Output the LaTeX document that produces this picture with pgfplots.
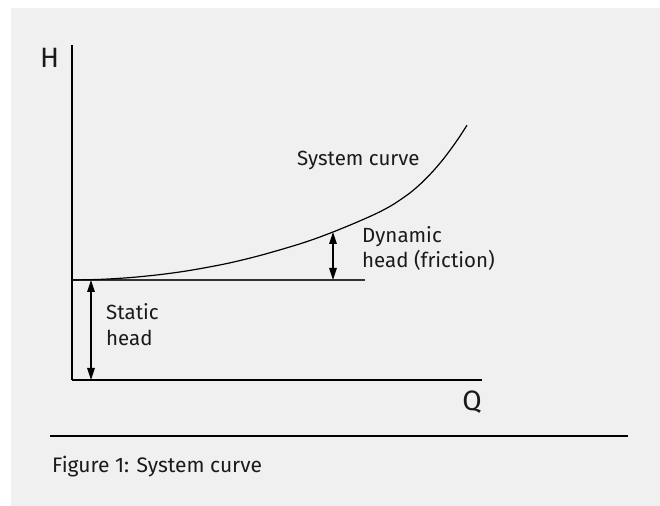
\documentclass[border=0pt]{standalone}
\usepackage{fontspec}
\setmainfont{Fira Sans}
\usepackage{pgfplots}
\pgfplotsset{compat=1.18}
\usetikzlibrary{arrows.meta}
\definecolor{bgc}{HTML}{F0F0F0}
\definecolor{txt}{HTML}{1A1A1A}
\begin{document}
\begin{tikzpicture}
\fill[white] (0,0) rectangle (660bp,506bp);
\fill[bgc] (11bp,0) rectangle (660bp,498bp);
\begin{axis}[
  at={(72bp,126bp)}, anchor=south west,
  scale only axis, width=410bp, height=335bp,
  xmin=72, xmax=482, ymin=126, ymax=461,
  axis x line*=bottom, axis y line*=left,
  axis line style={-, line width=1.3bp, black},
  xtick=\empty, ytick=\empty,
  clip=false,
]
% static head level
\addplot[line width=1.4bp, color=black!80] coordinates {(72,226) (365,226)};
% system curve
\addplot[line width=1.2bp, black, smooth, tension=0.5] coordinates {
(72,226) (100,226.6) (130,228.4) (160,231.4) (190,235.6) (227,242.5)
(260,250.5) (293,260) (313,266.5) (333,274) (355,283) (377,292.8)
(393,301.4) (410,313.1) (422,323.5) (433,334.8) (443,346.5) (453,359.8)
(460,369.9) (467,380.8)};
% arrows
\addplot[line width=1.2bp, black, {Triangle[length=12bp,width=7.5bp]}-{Triangle[length=12bp,width=7.5bp]}] coordinates {(91,226) (91,126)};
\addplot[line width=1.2bp, black, {Triangle[length=12bp,width=7.5bp]}-{Triangle[length=12bp,width=7.5bp]}] coordinates {(333,274) (333,226)};
% labels
\node[anchor=base west, inner sep=0, font=\fontsize{20.5bp}{24bp}\selectfont, txt] at (axis cs:297,340) {System curve};
\node[anchor=base west, inner sep=0, font=\fontsize{20.5bp}{24bp}\selectfont, txt] at (axis cs:362,263) {Dynamic};
\node[anchor=base west, inner sep=0, font=\fontsize{20.5bp}{24bp}\selectfont, txt] at (axis cs:362,238) {head (friction)};
\node[anchor=base west, inner sep=0, font=\fontsize{20.5bp}{24bp}\selectfont, txt] at (axis cs:106,186) {Static};
\node[anchor=base west, inner sep=0, font=\fontsize{20.5bp}{24bp}\selectfont, txt] at (axis cs:106,160) {head};
\node[anchor=base west, inner sep=0, font=\fontsize{28bp}{32bp}\selectfont, txt] at (axis cs:40,438) {H};
\node[anchor=base east, inner sep=0, font=\fontsize{28bp}{32bp}\selectfont, txt] at (axis cs:482,96) {Q};
% separator and caption
\draw[line width=1.2bp, black] (axis cs:50,70) -- (axis cs:628,70);
\node[anchor=base west, inner sep=0, font=\fontsize{21bp}{24bp}\selectfont, txt] at (axis cs:52,34) {Figure 1: System curve};
\end{axis}
\end{tikzpicture}
\end{document}
